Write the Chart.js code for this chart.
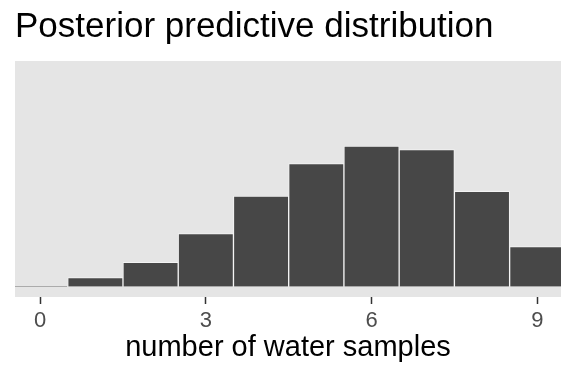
<!DOCTYPE html>
<html lang="en">
<head>
    <meta charset="UTF-8">
    <title>Posterior predictive distribution</title>
    <script src="https://cdn.jsdelivr.net/npm/chart.js@4.4.0/dist/chart.umd.min.js"></script>
    <style>
        * { margin: 0; padding: 0; box-sizing: border-box; }
        body { background: #fff; }
        .wrap { width: 576px; height: 384px; }
    </style>
</head>
<body>
    <div class="wrap">
        <canvas id="ppd"></canvas>
    </div>

    <script>
        // number of water samples (0..9) and simulated counts
        const samples = [0, 1, 2, 3, 4, 5, 6, 7, 8, 9];
        const counts = [7, 124, 340, 742, 1271, 1725, 1974, 1922, 1337, 559];
        const tickValues = [0, 3, 6, 9];

        // grey panel like ggplot's theme_gray
        const panelBg = {
            id: 'panelBg',
            beforeDraw(chart) {
                const a = chart.chartArea;
                const ctx = chart.ctx;
                ctx.save();
                ctx.fillStyle = '#e5e5e5';
                ctx.fillRect(a.left, a.top, a.right - a.left, a.bottom - a.top);
                ctx.restore();
            }
        };

        new Chart(document.getElementById('ppd'), {
            type: 'bar',
            data: {
                datasets: [{
                    data: samples.map((s, i) => ({ x: s, y: counts[i] })),
                    backgroundColor: '#474747',
                    borderColor: 'rgba(255,255,255,0.55)',
                    borderWidth: 1,
                    barPercentage: 1,
                    categoryPercentage: 1
                }]
            },
            options: {
                responsive: true,
                maintainAspectRatio: false,
                animation: false,
                layout: { padding: { left: 15, right: 15, top: 0, bottom: 8 } },
                plugins: {
                    legend: { display: false },
                    tooltip: { enabled: false },
                    title: {
                        display: true,
                        text: 'Posterior predictive distribution',
                        align: 'start',
                        color: '#000',
                        font: { family: 'Liberation Sans', size: 35, weight: 'normal', lineHeight: 1.2 },
                        padding: { top: 6, bottom: 13 }
                    }
                },
                scales: {
                    x: {
                        type: 'linear',
                        offset: false,
                        min: -0.455,
                        max: 9.43,
                        afterBuildTicks(axis) {
                            axis.ticks = tickValues.map(v => ({ value: v }));
                        },
                        ticks: {
                            color: '#4d4d4d',
                            padding: 5.5,
                            font: { family: 'Liberation Sans', size: 22, lineHeight: 1 },
                            callback: v => String(v)
                        },
                        grid: {
                            offset: false,
                            drawOnChartArea: false,
                            drawTicks: true,
                            tickLength: 7,
                            tickWidth: 1.5,
                            tickColor: '#333'
                        },
                        border: { display: false },
                        title: {
                            display: true,
                            text: 'number of water samples',
                            color: '#000',
                            font: { family: 'Liberation Sans', size: 29, lineHeight: 0.724 },
                            padding: { top: 0, bottom: 18 }
                        }
                    },
                    y: {
                        display: false,
                        min: -148,
                        max: 3168
                    }
                }
            },
            plugins: [panelBg]
        });
    </script>
</body>
</html>
